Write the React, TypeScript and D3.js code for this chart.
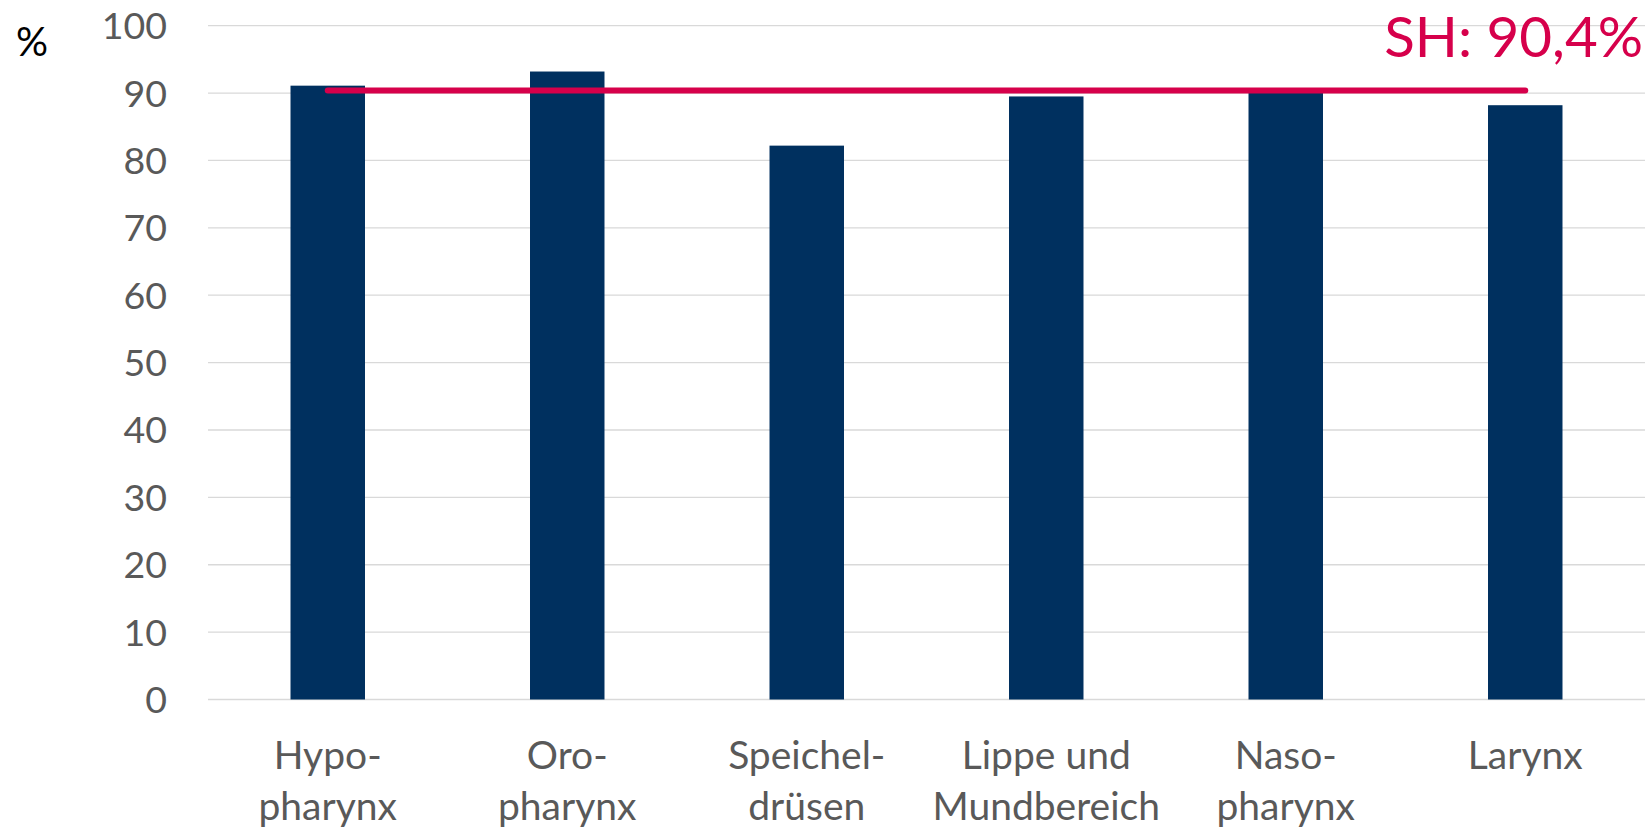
import React from "react";
import * as d3 from "d3";

// Survival share by tumour site, in percent
const categories: string[][] = [
  ["Hypo-", "pharynx"],
  ["Oro-", "pharynx"],
  ["Speichel-", "drüsen"],
  ["Lippe und", "Mundbereich"],
  ["Naso-", "pharynx"],
  ["Larynx"],
];
const values: number[] = [91.1, 93.2, 82.2, 89.5, 90.3, 88.2];
const yTicks: number[] = [0, 10, 20, 30, 40, 50, 60, 70, 80, 90, 100];
const referenceValue = 90.4;
const referenceLabel = "SH: 90,4%";
const unitLabel = "%";

const W = 1650;
const H = 829;
const plot = { left: 208, right: 1645, top: 25.7, bottom: 699.5 };

const FONT = "Lato, 'Open Sans', sans-serif";
const BAR = "#00305F";
const REF = "#D6004B";
const GRID = "#D9D9D9";
const TEXT = "#595959";

export default function App() {
  const keys = categories.map((c) => c.join(" "));
  const x = d3
    .scaleBand<string>()
    .domain(keys)
    .range([plot.left, plot.right])
    .paddingInner(0.689)
    .paddingOuter(0.3445);
  const y = d3.scaleLinear().domain([0, 100]).range([plot.bottom, plot.top]);

  const centers = keys.map((k) => (x(k) as number) + x.bandwidth() / 2);
  const refLine = d3.line<number>()
    .x((d) => d)
    .y(() => y(referenceValue));

  return (
    <svg
      width={W}
      height={H}
      viewBox={`0 0 ${W} ${H}`}
      style={{ position: "absolute", left: 0, top: 0, background: "#fff" }}
      fontFamily={FONT}
    >
      {/* horizontal gridlines and value axis labels */}
      {yTicks.map((t) => (
        <g key={t}>
          <line
            x1={plot.left}
            x2={plot.right}
            y1={y(t)}
            y2={y(t)}
            stroke={GRID}
            strokeWidth={1.3}
          />
          <text
            x={167}
            y={y(t)}
            dy="0.36em"
            textAnchor="end"
            fontSize={37.5}
            fill={TEXT}
          >
            {t}
          </text>
        </g>
      ))}

      <text x={32} y={42} dy="0.36em" textAnchor="middle" fontSize={40} fill="#000">
        {unitLabel}
      </text>

      {/* bars */}
      {keys.map((k, i) => (
        <rect
          key={k}
          x={x(k)}
          y={y(values[i])}
          width={x.bandwidth()}
          height={y(0) - y(values[i])}
          fill={BAR}
        />
      ))}

      {/* reference line across the category centres */}
      <path
        d={refLine([centers[0], centers[centers.length - 1]]) || ""}
        stroke={REF}
        strokeWidth={6}
        strokeLinecap="round"
        fill="none"
      />
      <text x={1643} y={56.5} textAnchor="end" fontSize={56.5} fill={REF}>
        {referenceLabel}
      </text>

      {/* category labels */}
      {categories.map((lines, i) => (
        <text
          key={keys[i]}
          x={centers[i]}
          y={769}
          textAnchor="middle"
          fontSize={39}
          fill={TEXT}
        >
          {lines.map((ln, j) => (
            <tspan key={j} x={centers[i]} dy={j === 0 ? 0 : 51}>
              {ln}
            </tspan>
          ))}
        </text>
      ))}
    </svg>
  );
}
